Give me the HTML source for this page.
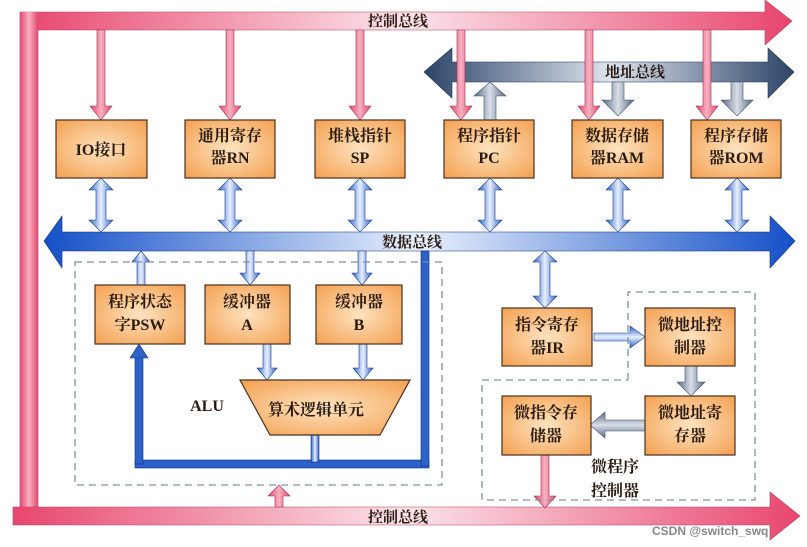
<!DOCTYPE html>
<html><head><meta charset="utf-8"><style>
html,body{margin:0;padding:0;background:#fff;width:807px;height:547px;overflow:hidden}
text{font-family:"Liberation Serif","Noto Serif CJK SC",serif;font-weight:bold;fill:#2a1a10}
</style></head><body>
<svg width="807" height="547" viewBox="0 0 807 547" xmlns="http://www.w3.org/2000/svg">
<defs>
<linearGradient id="pk" x1="0" x2="1" y1="0" y2="0"><stop offset="0" stop-color="#e8466e"/><stop offset="0.5" stop-color="#fbe4ea"/><stop offset="1" stop-color="#e8466e"/></linearGradient>
<linearGradient id="pkv" x1="0" x2="1"><stop offset="0" stop-color="#e04a70"/><stop offset="0.5" stop-color="#f8b0c2"/><stop offset="1" stop-color="#e04a70"/></linearGradient>
<linearGradient id="bl" x1="0" x2="1"><stop offset="0" stop-color="#1450c8"/><stop offset="0.5" stop-color="#e8f0fc"/><stop offset="1" stop-color="#1450c8"/></linearGradient>
<linearGradient id="blv" x1="0" x2="1"><stop offset="0" stop-color="#2d62c8"/><stop offset="0.5" stop-color="#e8f0ff"/><stop offset="1" stop-color="#2d62c8"/></linearGradient>
<linearGradient id="blh" x1="0" x2="0" y1="0" y2="1"><stop offset="0" stop-color="#2d62c8"/><stop offset="0.5" stop-color="#e8f0ff"/><stop offset="1" stop-color="#2d62c8"/></linearGradient>
<linearGradient id="gr" x1="0" x2="1"><stop offset="0" stop-color="#2c4468"/><stop offset="0.5" stop-color="#dde4ee"/><stop offset="1" stop-color="#2c4468"/></linearGradient>
<linearGradient id="grv" x1="0" x2="1"><stop offset="0" stop-color="#5a6a82"/><stop offset="0.5" stop-color="#d8dee8"/><stop offset="1" stop-color="#5a6a82"/></linearGradient>
<linearGradient id="grh" x1="0" x2="0" y1="0" y2="1"><stop offset="0" stop-color="#5a6a82"/><stop offset="0.5" stop-color="#d8dee8"/><stop offset="1" stop-color="#5a6a82"/></linearGradient>
<radialGradient id="or" cx="0.5" cy="0.5" r="0.7"><stop offset="0" stop-color="#fde3c0"/><stop offset="1" stop-color="#f4a050"/></radialGradient>
</defs>

<polygon points="20,12 765,12 765,0 792,21 765,45 765,30 38,30 38,510 20,510" fill="url(#pk)" stroke="#b04060" stroke-width="0.6"/>
<rect x="20" y="12" width="18" height="500" fill="url(#pkv)"/>
<text x="368" y="26" font-size="15" font-weight="normal">控制总线</text>
<polygon points="13,507 770,507 770,492 800,516 770,540 770,525 13,525" fill="url(#pk)" stroke="#b04060" stroke-width="0.6"/>
<text x="368" y="522" font-size="15" font-weight="normal">控制总线</text>

<polygon points="424,72 452,48 452,62 768,62 768,48 794,72 768,98 768,82 452,82 452,98" fill="url(#gr)" stroke="#203050" stroke-width="0.6"/>
<text x="605" y="77" font-size="15" font-weight="normal">地址总线</text>

<polygon points="44,241 62,216 62,232 770,232 770,216 795,241 770,268 770,251 62,251 62,268" fill="url(#bl)" stroke="#103070" stroke-width="0.6"/>
<text x="382" y="247" font-size="15" font-weight="normal">数据总线</text>

<g fill="url(#pkv)" stroke="#a03050" stroke-width="0.6">
<polygon points="97,30 105,30 105,106 112,106 101,120 90,106 97,106"/>
<polygon points="226,30 234,30 234,106 241,106 230,120 219,106 226,106"/>
<polygon points="356,30 364,30 364,106 371,106 360,120 349,106 356,106"/>
<polygon points="457,30 465,30 465,106 472,106 461,120 450,106 457,106"/>
<polygon points="585,30 593,30 593,106 600,106 589,120 578,106 585,106"/>
<polygon points="703,30 711,30 711,106 718,106 707,120 696,106 703,106"/>
<polygon points="541,455 549,455 549,496 556,496 545,508 534,496 541,496"/>
<polygon points="275,507 283,507 283,496 290,496 279,485 268,496 275,496"/>
</g>

<g fill="url(#grv)" stroke="#405070" stroke-width="0.6">
<polygon points="484,120 496,120 496,96 506,96 490,82 474,96 484,96"/>
<polygon points="612,82 624,82 624,100 634,100 618,116 602,100 612,100"/>
<polygon points="731,82 743,82 743,100 753,100 737,116 721,100 731,100"/>
<polygon points="685,366 697,366 697,382 705,382 691,396 677,382 685,382"/>
</g>
<polygon points="646,420 646,431 605,431 605,438 590,425 605,412 605,420" fill="url(#grh)" stroke="#405070" stroke-width="0.6"/>

<g fill="url(#blv)" stroke="#1a3c90" stroke-width="0.6">
<polygon points="101,178 113,190 106,190 106,220 113,220 101,232 89,220 96,220 96,190 89,190"/>
<polygon points="230,178 242,190 235,190 235,220 242,220 230,232 218,220 225,220 225,190 218,190"/>
<polygon points="360,178 372,190 365,190 365,220 372,220 360,232 348,220 355,220 355,190 348,190"/>
<polygon points="490,178 502,190 495,190 495,220 502,220 490,232 478,220 485,220 485,190 478,190"/>
<polygon points="618,178 630,190 623,190 623,220 630,220 618,232 606,220 613,220 613,190 606,190"/>
<polygon points="737,178 749,190 742,190 742,220 749,220 737,232 725,220 732,220 732,190 725,190"/>
<polygon points="545,251 557,262 550,262 550,296 557,296 545,308 533,296 540,296 540,262 533,262"/>
<polygon points="137,285 137,262 132,262 141,251 150,262 145,262 145,285"/>
<polygon points="246,251 254,251 254,273 260,273 250,285 240,273 246,273"/>
<polygon points="358,251 366,251 366,273 372,273 362,285 352,273 358,273"/>
<polygon points="263,344 271,344 271,368 277,368 267,380 257,368 263,368"/>
<polygon points="359,344 367,344 367,368 373,368 363,380 353,368 359,368"/>
</g>
<g fill="#2d62c8" stroke="#0e2e80" stroke-width="0.6">
<rect x="135" y="460" width="294" height="8"/>
<rect x="135" y="356" width="8" height="108"/>
<polygon points="130,358 139,344 148,358"/>
<rect x="421" y="251" width="8" height="215"/>
<rect x="311" y="435" width="8" height="27" fill="url(#blv)"/>
</g>
<polygon points="594,333 630,333 630,326 645,337 630,348 630,341 594,341" fill="url(#blh)" stroke="#1a3c90" stroke-width="0.6"/>

<g fill="none" stroke="#8090a8" stroke-width="1.3" stroke-dasharray="7,5">
<rect x="75" y="262" width="367" height="223"/>
<polyline points="628,380 628,292 755,292 755,500 482,500 482,380 628,380"/>
</g>

<g fill="url(#or)" stroke="#4a3020" stroke-width="1.2">
<rect x="56" y="120" width="91" height="58"/>
<rect x="185" y="120" width="90" height="58"/>
<rect x="315" y="120" width="90" height="58"/>
<rect x="444" y="120" width="90" height="58"/>
<rect x="572" y="120" width="91" height="58"/>
<rect x="691" y="120" width="90" height="58"/>
<rect x="95" y="285" width="90" height="59"/>
<rect x="205" y="285" width="85" height="59"/>
<rect x="316" y="285" width="86" height="59"/>
<rect x="502" y="308" width="90" height="58"/>
<rect x="645" y="308" width="90" height="58"/>
<rect x="645" y="396" width="90" height="59"/>
<rect x="502" y="396" width="89" height="59"/>
<polygon points="240,380 410,380 380,435 270,435"/>
</g>

<g font-size="16" text-anchor="middle">
<text x="101" y="155">IO接口</text>
<text x="230" y="141">通用寄存</text><text x="230" y="163">器RN</text>
<text x="360" y="141">堆栈指针</text><text x="360" y="163">SP</text>
<text x="489" y="141">程序指针</text><text x="489" y="163">PC</text>
<text x="617" y="141">数据存储</text><text x="617" y="163">器RAM</text>
<text x="736" y="141">程序存储</text><text x="736" y="163">器ROM</text>
<text x="140" y="307">程序状态</text><text x="140" y="330">字PSW</text>
<text x="247" y="307">缓冲器</text><text x="247" y="330">A</text>
<text x="359" y="307">缓冲器</text><text x="359" y="330">B</text>
<text x="316" y="415">算术逻辑单元</text>
<text x="207" y="411">ALU</text>
<text x="547" y="330">指令寄存</text><text x="547" y="353">器IR</text>
<text x="690" y="330">微地址控</text><text x="690" y="353">制器</text>
<text x="690" y="418">微地址寄</text><text x="690" y="441">存器</text>
<text x="546" y="418">微指令存</text><text x="546" y="441">储器</text>
<text x="615" y="472" font-weight="normal">微程序</text><text x="615" y="496" font-weight="normal">控制器</text>
</g>
<text x="652" y="535" font-size="12" font-weight="normal" style="font-family:'Liberation Sans',sans-serif;fill:#888">CSDN @switch_swq</text>
</svg>
</body></html>
